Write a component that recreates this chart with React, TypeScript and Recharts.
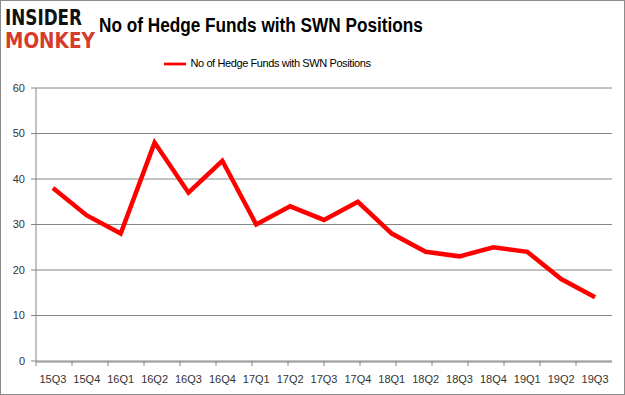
import { LineChart, Line, XAxis, YAxis, CartesianGrid, Legend } from 'recharts';

const quarters = [
  '15Q3', '15Q4', '16Q1', '16Q2', '16Q3', '16Q4', '17Q1', '17Q2', '17Q3',
  '17Q4', '18Q1', '18Q2', '18Q3', '18Q4', '19Q1', '19Q2', '19Q3',
];
const funds = [38, 32, 28, 48, 37, 44, 30, 34, 31, 35, 28, 24, 23, 25, 24, 18, 14];
const yTicks = [0, 10, 20, 30, 40, 50, 60];
const boundaryTicks = quarters.map((_, i) => i).concat(quarters.length);

const SERIES = 'No of Hedge Funds with SWN Positions';
const data = quarters.map((q, i) => ({ quarter: q, value: funds[i] }));

const AXIS = '#868686';
const TICK = { fontSize: 11, fill: '#333', fontFamily: 'Liberation Sans, Arial, sans-serif' };

export default function App() {
  return (
    <div
      style={{
        position: 'fixed',
        left: 0,
        top: 0,
        width: 623,
        height: 393,
        border: '1px solid #8c8c8c',
        background: '#fff',
        fontFamily: 'Liberation Sans, Arial, sans-serif',
      }}
    >
      <div style={{ position: 'absolute', left: 4, top: 7, lineHeight: 1, fontWeight: 900, fontFamily: 'DejaVu Sans' }}>
        <div style={{ fontSize: 21, color: '#111', transform: 'scaleX(0.8)', transformOrigin: 'left' }}>INSIDER</div>
        <div style={{ fontSize: 21, color: '#d63b2b', marginTop: 2, transform: 'scaleX(0.88)', transformOrigin: 'left' }}>MONKEY</div>
      </div>
      <div
        style={{
          position: 'absolute',
          left: 98,
          top: 13,
          fontSize: 20,
          fontWeight: 'bold',
          color: '#000',
          whiteSpace: 'nowrap',
          transform: 'scaleX(0.86)',
          transformOrigin: 'left',
        }}
      >
        {SERIES}
      </div>
      <LineChart
        width={623}
        height={393}
        data={data}
        margin={{ top: 65, right: 12, bottom: 10, left: 0 }}
      >
        <CartesianGrid vertical={false} stroke={AXIS} strokeWidth={1} />
        <XAxis
          xAxisId="bounds"
          type="number"
          domain={[0, quarters.length]}
          ticks={boundaryTicks}
          tick={() => <g />}
          height={1}
          axisLine={false}
          tickSize={5}
          tickLine={{ stroke: AXIS }}
        />
        <XAxis
          xAxisId="main"
          dataKey="quarter"
          scale="band"
          interval={0}
          height={22}
          tick={TICK}
          tickLine={false}
          tickMargin={7}
          axisLine={{ stroke: AXIS }}
        />
        <YAxis
          domain={[0, 60]}
          ticks={yTicks}
          width={35}
          tick={TICK}
          tickSize={5}
          tickMargin={6}
          tickLine={{ stroke: AXIS }}
          axisLine={{ stroke: AXIS }}
        />
        <Legend
          verticalAlign="top"
          align="center"
          iconType="plainline"
          iconSize={22}
          wrapperStyle={{ top: 52, left: -40, width: 623, fontSize: 11, letterSpacing: -0.4, color: '#000' }}
          formatter={(v: string) => <span style={{ color: '#000' }}>{v}</span>}
        />
        <Line
          xAxisId="main"
          dataKey="value"
          name={SERIES}
          stroke="#ff0000"
          strokeWidth={4.5}
          dot={false}
          isAnimationActive={false}
          legendType="plainline"
        />
      </LineChart>
    </div>
  );
}
